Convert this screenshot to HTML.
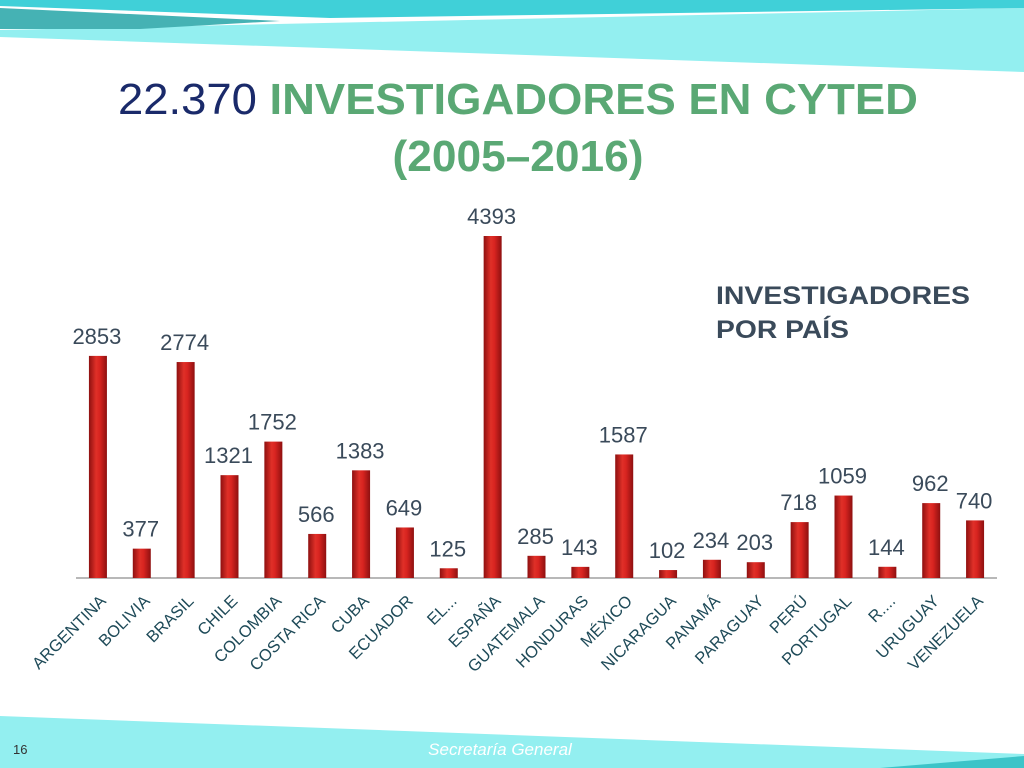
<!DOCTYPE html>
<html><head><meta charset="utf-8"><style>
html,body{margin:0;padding:0;background:#fff;}
body{width:1024px;height:768px;overflow:hidden;position:relative;font-family:"Liberation Sans",sans-serif;}
svg{position:absolute;left:0;top:0;}
</style></head><body>
<svg width="1024" height="768">
<g>
<polygon points="0,30 1024,8 1024,72 0,37" fill="#93eff0"/>
<polygon points="0,0 1024,0 1024,8 330,18 0,6" fill="#40d0d8"/>
<polygon points="0,8 280,21 140,29 0,29" fill="#45b2b4"/>
</g>
<g>
<polygon points="0,716 1024,754 1024,768 0,768" fill="#93eff0"/>
<polygon points="880,768 1024,756 1024,768" fill="#3cc4c8"/>
</g>
<text x="518" y="114" text-anchor="middle" font-size="44" font-weight="bold" textLength="800" lengthAdjust="spacingAndGlyphs"><tspan fill="#1a2a6a" font-weight="normal">22.370</tspan><tspan fill="#5aa874"> INVESTIGADORES EN CYTED</tspan></text>
<text x="518" y="171" text-anchor="middle" font-size="44" font-weight="bold" fill="#5aa874" textLength="251" lengthAdjust="spacingAndGlyphs">(2005–2016)</text>
<text x="716" y="304" font-size="25" font-weight="bold" fill="#3a4a5a" textLength="254" lengthAdjust="spacingAndGlyphs">INVESTIGADORES</text>
<text x="716" y="338" font-size="25" font-weight="bold" fill="#3a4a5a" textLength="133" lengthAdjust="spacingAndGlyphs">POR PAÍS</text>
<defs><linearGradient id="bg" x1="0" x2="1" y1="0" y2="0">
<stop offset="0" stop-color="#8e1010"/><stop offset="0.4" stop-color="#e03028"/><stop offset="0.6" stop-color="#d82420"/><stop offset="1" stop-color="#8e1010"/></linearGradient></defs>
<g id="chart"></g>
<text x="13" y="754" font-size="13" fill="#333">16</text>
<text x="500" y="755" text-anchor="middle" font-size="17" font-style="italic" fill="#fff">Secretaría General</text>
</svg>
<script>
const categories=["ARGENTINA","BOLIVIA","BRASIL","CHILE","COLOMBIA","COSTA RICA","CUBA","ECUADOR","EL...","ESPAÑA","GUATEMALA","HONDURAS","MÉXICO","NICARAGUA","PANAMÁ","PARAGUAY","PERÚ","PORTUGAL","R....","URUGUAY","VENEZUELA"];
const values=[2853,377,2774,1321,1752,566,1383,649,125,4393,285,143,1587,102,234,203,718,1059,144,962,740];
const NS="http://www.w3.org/2000/svg";
const g=document.getElementById('chart');
const baseY=578,x0=76,x1=997,maxV=4393,topY=236;
const step=(x1-x0)/categories.length;
const xs=i=>x0+step*(i+0.5);
const ys=v=>baseY-(v/maxV)*(baseY-topY);
function mk(t,a){const e=document.createElementNS(NS,t);for(const k in a)e.setAttribute(k,a[k]);return e;}
const axis=mk('line',{x1:x0,x2:x1,y1:baseY,y2:baseY,stroke:'#a0a0a0','stroke-width':1.5});


g.appendChild(axis);
categories.forEach((c,i)=>{
  const cx=xs(i),y=ys(values[i]);
  const r=mk('rect',{x:cx-9,y:y,width:18,height:baseY-y,fill:'url(#bg)'});
  
  
  g.appendChild(r);
  const t=mk('text',{x:cx-1,y:y-12,'text-anchor':'middle','font-size':22,fill:'#3a4a5a'});
  t.textContent=values[i];
  
  
  g.appendChild(t);
  const l=mk('text',{x:0,y:0,'text-anchor':'end','font-size':16.5,fill:'#1e4a58',transform:`translate(${cx+9},${baseY+24}) rotate(-45)`});
  l.textContent=c;
  
  
  g.appendChild(l);
});
</script>
</body></html>
